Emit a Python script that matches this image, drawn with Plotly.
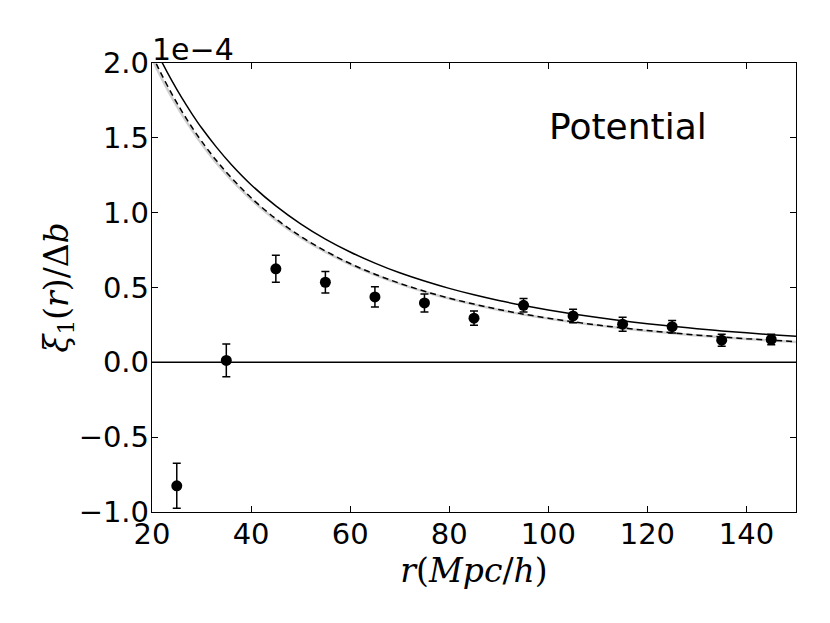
import plotly.graph_objects as go

# ---- data (y values in units of 1e-4) ----
r_points = [25, 35, 45, 55, 65, 75, 85, 95, 105, 115, 125, 135, 145]
xi_points = [-0.825, 0.013, 0.625, 0.535, 0.437, 0.397, 0.295, 0.381, 0.310, 0.255, 0.238, 0.148, 0.153]
xi_err = [0.150, 0.110, 0.090, 0.072, 0.068, 0.060, 0.048, 0.045, 0.045, 0.047, 0.042, 0.040, 0.035]

r_solid = [21, 22, 24, 26, 28, 30, 33, 36, 40, 45, 50, 55, 60, 65, 70, 75, 80, 85, 90,
           95, 100, 105, 110, 115, 120, 125, 130, 135, 140, 145, 150]
xi_solid = [2.073, 2.006, 1.882, 1.768, 1.664, 1.567, 1.438, 1.322, 1.187, 1.045, 0.925,
            0.823, 0.737, 0.663, 0.598, 0.543, 0.494, 0.451, 0.413, 0.380, 0.350, 0.323,
            0.299, 0.278, 0.258, 0.241, 0.225, 0.210, 0.197, 0.185, 0.174]

r_dash = [20, 21, 22, 24, 26, 28, 30, 33, 36, 40, 45, 50, 55, 60, 65, 70, 75, 80, 85, 90,
          95, 100, 105, 110, 115, 120, 125, 130, 135, 140, 145, 150]
xi_dash = [2.057, 1.986, 1.919, 1.794, 1.679, 1.574, 1.478, 1.348, 1.234, 1.100, 0.959,
           0.842, 0.744, 0.660, 0.589, 0.528, 0.475, 0.429, 0.389, 0.353, 0.322, 0.295,
           0.271, 0.249, 0.230, 0.212, 0.197, 0.182, 0.170, 0.158, 0.148, 0.138]
xi_gray = [2.030, 1.960, 1.894, 1.771, 1.659, 1.556, 1.461, 1.333, 1.221, 1.089, 0.950,
           0.835, 0.738, 0.655, 0.585, 0.524, 0.472, 0.426, 0.386, 0.350, 0.319, 0.292,
           0.268, 0.247, 0.228, 0.210, 0.195, 0.180, 0.168, 0.156, 0.146, 0.136]

x_ticks = [20, 40, 60, 80, 100, 120, 140]
y_ticks = [-1.0, -0.5, 0.0, 0.5, 1.0, 1.5, 2.0]
y_ticktext = ["\u22121.0", "\u22120.5", "0.0", "0.5", "1.0", "1.5", "2.0"]

fig = go.Figure()

fig.add_trace(go.Scatter(x=[20, 150], y=[0, 0], mode="lines",
                         line=dict(color="black", width=1.5), showlegend=False,
                         hoverinfo="skip"))
fig.add_trace(go.Scatter(x=r_dash, y=xi_gray, mode="lines", line_shape="spline",
                         line=dict(color="#d0d0d0", width=2.5), showlegend=False))
fig.add_trace(go.Scatter(x=r_dash, y=xi_dash, mode="lines", line_shape="spline",
                         line=dict(color="black", width=1.5, dash="6px,4px"), showlegend=False))
fig.add_trace(go.Scatter(x=r_solid, y=xi_solid, mode="lines", line_shape="spline",
                         line=dict(color="black", width=1.5), showlegend=False))
fig.add_trace(go.Scatter(x=r_points, y=xi_points, mode="markers",
                         marker=dict(color="black", size=11),
                         error_y=dict(type="data", array=xi_err, color="black",
                                      thickness=1.5, width=4),
                         showlegend=False))

tick_font = dict(family="DejaVu Sans", size=29, color="black")
title_font = dict(family="DejaVu Serif", size=33, color="black")

fig.update_layout(
    width=830, height=623,
    margin=dict(l=144, r=42, t=55, b=119),
    paper_bgcolor="white", plot_bgcolor="white",
    xaxis=dict(range=[20, 150], tickvals=x_ticks, ticks="inside", ticklen=6,
               tickcolor="black", showline=True, linecolor="black", linewidth=1.3,
               mirror="allticks", showgrid=False, zeroline=False, tickfont=tick_font,
               ticklabelstandoff=-4,
               title=dict(text="<i>r</i>(<i>Mpc</i>/<i>h</i>)", font=title_font,
                          standoff=2)),
    yaxis=dict(range=[-1.0, 2.0], tickvals=y_ticks, ticktext=y_ticktext, ticks="inside",
               ticklen=6, tickcolor="black", showline=True, linecolor="black",
               linewidth=1.3, mirror="allticks", showgrid=False, zeroline=False,
               tickfont=tick_font, ticklabelstandoff=-4,
               title=dict(text="<i>ξ</i><sub>1</sub>(<i>r</i>)/Δ<i>b</i>", font=title_font,
                          standoff=0)),
    annotations=[
        dict(text="Potential", xref="paper", yref="paper", x=0.739, y=0.858,
             xanchor="center", yanchor="middle", showarrow=False,
             font=dict(family="DejaVu Sans", size=36, color="black")),
        dict(text="1e\u22124", xref="paper", yref="paper", x=0.0, y=1.0,
             xanchor="left", yanchor="bottom", showarrow=False, yshift=-6, xshift=-2,
             font=dict(family="DejaVu Sans", size=30, color="black")),
    ],
)

fig.write_html("out.html")
